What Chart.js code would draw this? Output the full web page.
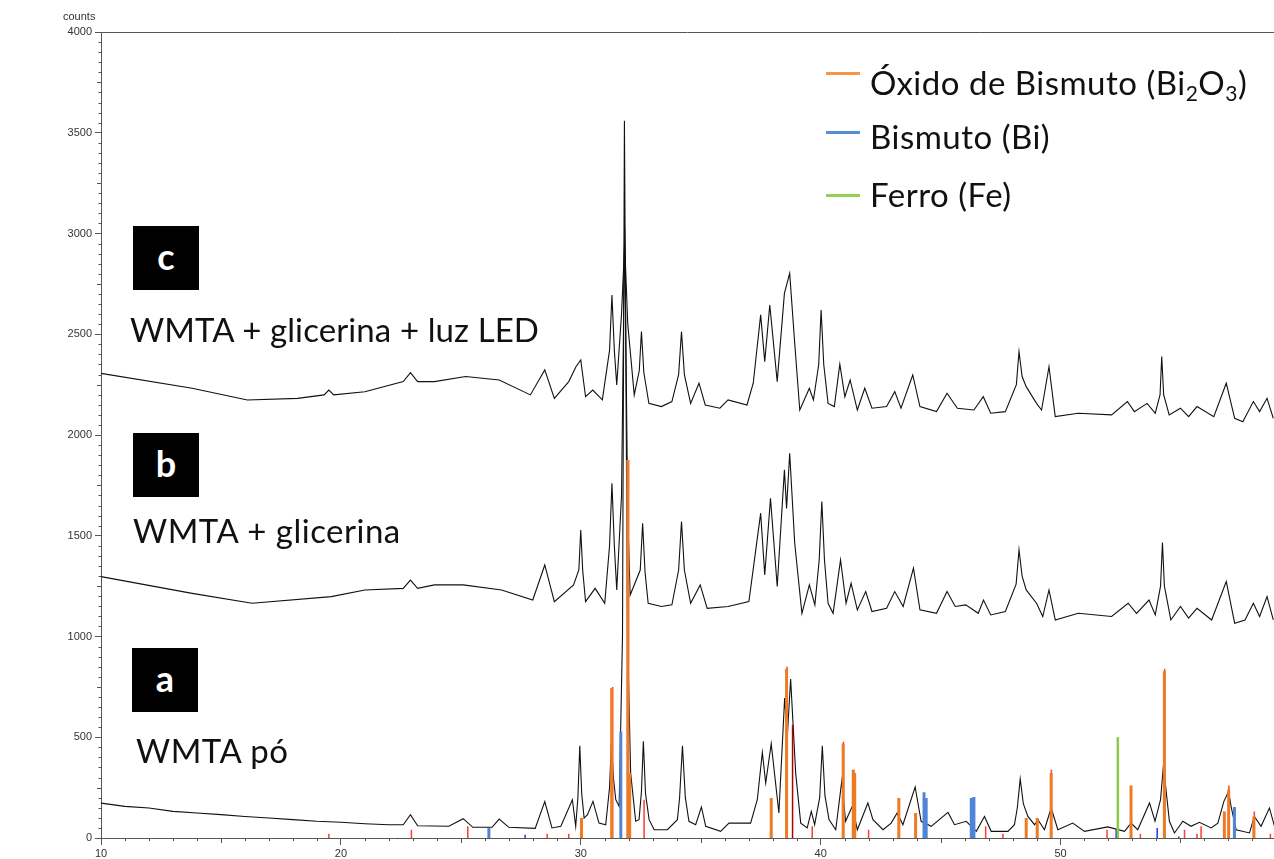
<!DOCTYPE html>
<html>
<head>
<meta charset="utf-8">
<script src="https://cdn.jsdelivr.net/npm/chart.js@4.4.1/dist/chart.umd.min.js"></script>
<style>
  body { margin: 0; background: #fff; }
  #wrap { position: relative; width: 1274px; height: 859px; }
  canvas { position: absolute; left: 0; top: 0; }
  .lbl { position: absolute; font-family: Lato, "Noto Sans", sans-serif; font-size: 33px; line-height: 33px; letter-spacing: 0.5px; color: #111; white-space: nowrap; }
  .box { position: absolute; width: 66px; height: 64px; background: #000; color: #fff; font-family: Lato, sans-serif; font-weight: bold; font-size: 36px; line-height: 60px; text-align: center; }
  .leg { position: absolute; font-family: Lato, "Noto Sans", sans-serif; font-size: 33px; line-height: 33px; letter-spacing: 0.5px; color: #111; white-space: nowrap; }
  .leg sub { font-size: 21px; vertical-align: -6px; line-height: 0; }
  .sw { position: absolute; width: 34px; height: 3px; }
  #counts { position: absolute; left: 63px; top: 10px; font: 11px "Liberation Sans", Arial, sans-serif; color: #333; }
</style>
</head>
<body>
<div id="wrap">
  <canvas id="xrd" width="1274" height="859"></canvas>
  <div id="counts">counts</div>

  <div class="box" style="left:133px;top:226px">c</div>
  <div class="lbl" style="left:130px;top:313px;letter-spacing:0.1px">WMTA + glicerina + luz LED</div>
  <div class="box" style="left:133px;top:433px">b</div>
  <div class="lbl" style="left:133px;top:514px">WMTA + glicerina</div>
  <div class="box" style="left:132px;top:648px">a</div>
  <div class="lbl" style="left:136px;top:734px">WMTA pó</div>

  <div class="sw" style="left:826px;top:72px;background:#F79646"></div>
  <div class="leg" style="left:870px;top:66px">Óxido de Bismuto (Bi<sub>2</sub>O<sub>3</sub>)</div>
  <div class="sw" style="left:826px;top:131px;background:#558ED5"></div>
  <div class="leg" style="left:870px;top:120px">Bismuto (Bi)</div>
  <div class="sw" style="left:826px;top:194px;background:#92D050"></div>
  <div class="leg" style="left:870px;top:178px">Ferro (Fe)</div>
</div>
<script>
// scan traces, [2theta, counts]
var wmtaPo = [
  [10,173],[11,157],[12,149],[13,132],[14,124],[15,116],[16,107],[17,99],[18,91],[19,83],[20,78],[21,71],[22,66],
  [22.6,66],[22.9,116],[23.2,61],[24.5,58],[25.1,96],[25.5,53],[26.3,53],[26.6,94],[27.0,53],[28.1,48],[28.5,181],
  [28.8,50],[29.17,58],[29.65,190],[29.79,58],[29.88,200],[29.96,458],[30.04,220],[30.14,99],[30.28,116],[30.51,182],
  [30.76,74],[31.04,66],[31.2,250],[31.28,480],[31.36,300],[31.46,190],[31.6,157],[31.74,1000],[31.82,3560],[31.95,1000],
  [32.08,322],[32.29,83],[32.43,91],[32.53,230],[32.61,480],[32.7,220],[32.85,91],[33.06,41],[33.61,41],[34.03,91],
  [34.12,200],[34.24,458],[34.36,200],[34.51,83],[34.79,66],[35.03,154],[35.21,58],[35.83,33],[36.18,74],[37.08,74],
  [37.36,190],[37.57,425],[37.71,273],[37.94,468],[38.26,124],[38.5,695],[38.61,504],[38.75,789],[38.96,322],[39.17,74],
  [39.44,50],[39.61,132],[39.75,66],[39.96,200],[40.07,458],[40.18,210],[40.35,91],[40.63,41],[40.88,281],[41.04,83],
  [41.32,157],[41.53,41],[41.97,174],[42.18,91],[42.6,41],[42.94,74],[43.19,124],[43.43,66],[43.94,253],[44.19,83],
  [44.61,58],[45.31,127],[45.58,66],[46.07,83],[46.49,33],[46.83,107],[47.11,33],[47.81,33],[48.08,66],[48.2,150],
  [48.32,293],[48.45,170],[48.64,107],[48.92,66],[49.06,91],[49.33,41],[49.61,149],[49.89,41],[50.51,74],[51.0,33],
  [51.97,55],[52.67,33],[52.94,74],[53.22,41],[53.71,174],[53.94,83],[54.17,190],[54.29,359],[54.54,83],[54.75,25],
  [55.1,83],[55.44,58],[55.79,78],[56.28,50],[56.56,74],[56.81,182],[57.01,232],[57.11,157],[57.32,41],[57.88,25],
  [58.08,107],[58.36,58],[58.71,149],[58.94,50]
];
var wmtaGlic = [
  [10,1297],[13.8,1214],[16.3,1165],[19.6,1198],[21.0,1231],[22.6,1239],[22.9,1280],[23.2,1239],[23.9,1256],[25.1,1256],
  [26.7,1231],[28.0,1181],[28.5,1355],[28.9,1173],[29.7,1256],[29.92,1330],[30.0,1529],[30.08,1330],[30.2,1173],
  [30.6,1239],[31.0,1165],[31.2,1450],[31.3,1760],[31.4,1450],[31.5,1231],[31.7,1700],[31.83,3030],[31.96,1600],
  [32.06,1206],[32.48,1330],[32.58,1562],[32.68,1320],[32.81,1165],[33.36,1149],[33.8,1157],[34.08,1330],[34.2,1570],
  [34.32,1330],[34.58,1165],[34.98,1256],[35.27,1140],[36.14,1149],[37.01,1173],[37.5,1612],[37.67,1306],[37.91,1686],
  [38.19,1248],[38.49,1827],[38.58,1636],[38.71,1909],[38.92,1463],[39.22,1115],[39.53,1256],[39.76,1157],[39.94,1380],
  [40.05,1670],[40.16,1380],[40.31,1165],[40.52,1115],[40.83,1380],[41.06,1165],[41.27,1264],[41.53,1132],[41.88,1223],
  [42.14,1124],[42.75,1140],[43.09,1223],[43.44,1149],[43.87,1339],[44.14,1132],[44.83,1115],[45.27,1223],[45.61,1149],
  [46.05,1157],[46.57,1115],[46.79,1181],[47.09,1107],[47.7,1124],[48.15,1260],[48.27,1430],[48.4,1300],[48.57,1231],
  [49.0,1165],[49.26,1099],[49.52,1231],[49.78,1082],[50.74,1115],[52.13,1099],[52.82,1165],[53.17,1115],[53.69,1181],
  [53.95,1107],[54.17,1250],[54.25,1466],[54.33,1250],[54.6,1082],[55.0,1149],[55.34,1091],[55.69,1140],[56.3,1082],
  [56.91,1273],[57.26,1066],[57.69,1082],[58.04,1165],[58.3,1099],[58.61,1198],[58.87,1082]
];
var wmtaLed = [
  [10,2306],[13.8,2232],[16.1,2174],[18.2,2182],[19.3,2199],[19.5,2223],[19.7,2199],[21.0,2215],[22.6,2265],[22.9,2309],
  [23.2,2265],[23.9,2265],[25.2,2290],[26.6,2273],[27.9,2199],[28.5,2323],[28.9,2182],[29.5,2265],[29.8,2339],[30.0,2372],
  [30.2,2190],[30.5,2223],[30.9,2174],[31.2,2420],[31.3,2695],[31.4,2420],[31.5,2248],[31.7,2600],[31.83,2950],
  [31.96,2550],[32.23,2199],[32.44,2320],[32.53,2513],[32.63,2310],[32.84,2157],[33.36,2141],[33.8,2166],[34.08,2300],
  [34.2,2513],[34.32,2300],[34.58,2157],[34.93,2257],[35.19,2149],[35.8,2133],[36.14,2174],[36.93,2149],[37.19,2257],
  [37.5,2596],[37.67,2364],[37.88,2645],[38.19,2265],[38.49,2703],[38.71,2802],[38.92,2455],[39.13,2124],[39.53,2232],
  [39.7,2174],[39.92,2350],[40.02,2620],[40.13,2350],[40.31,2157],[40.57,2141],[40.8,2352],[41.01,2190],[41.23,2273],
  [41.53,2124],[41.84,2232],[42.14,2133],[42.75,2141],[43.09,2215],[43.35,2133],[43.84,2298],[44.14,2141],[44.83,2116],
  [45.27,2207],[45.7,2133],[46.39,2124],[46.78,2190],[47.09,2108],[47.7,2116],[48.16,2250],[48.27,2414],[48.4,2290],
  [48.57,2240],[49.0,2157],[49.21,2124],[49.52,2339],[49.78,2091],[50.74,2108],[52.13,2100],[52.79,2166],[53.08,2116],
  [53.61,2157],[53.95,2108],[54.15,2200],[54.22,2389],[54.3,2200],[54.53,2100],[55.0,2133],[55.34,2091],[55.69,2141],
  [56.39,2091],[56.91,2257],[57.26,2083],[57.6,2066],[58.04,2166],[58.3,2116],[58.61,2182],[58.87,2083]
];

// reference patterns (stick lines), [2theta, height]
var bi2o3Sticks = [
  [30.03,99],[31.29,744],[31.96,1876],[32.04,322],[37.94,198],[38.58,839],[40.94,468],[41.36,339],[41.42,322],
  [43.26,198],[43.96,124],[48.57,99],[49.03,99],[49.61,322],[52.94,261],[54.33,827],[56.83,132],[57.01,240],[58.06,107]
];
var biSticks = [[26.17,50],[31.67,529],[44.31,227],[44.4,198],[46.28,198],[46.39,203],[57.25,154]];
var biSmallSticks = [[27.68,16],[52.32,41],[54.03,50],[54.93,8]];
var feSticks = [[52.39,501]];
var redSticks = [
  [19.5,21],[22.94,41],[25.29,58],[28.6,21],[29.5,21],[31.33,750],[31.99,1876],[32.64,190],[38.6,850],[39.65,58],
  [40.95,478],[41.38,339],[42.0,41],[46.88,58],[47.6,21],[49.62,339],[51.94,41],[53.33,21],[54.34,840],[55.17,41],
  [55.69,21],[55.86,58],[57.02,261],[58.08,132],[58.75,21]
];
var darkRedSticks = [[38.83,562]];

var yTicks = [0, 500, 1000, 1500, 2000, 2500, 3000, 3500, 4000];
var xTicks = [10, 20, 30, 40, 50];

function toPoints(arr) {
  return arr.map(function(p) { return {x: p[0], y: p[1]}; });
}
function toSticks(arr) {
  var out = [];
  for (var i in arr) {
    out.push({x: arr[i][0], y: 0});
    out.push({x: arr[i][0], y: arr[i][1]});
    out.push({x: arr[i][0], y: null});
  }
  return out;
}

function trace(data) {
  return { data: toPoints(data), borderColor: '#111', borderWidth: 1.1, pointRadius: 0, tension: 0, order: 10 };
}
function sticks(data, color, w, ord) {
  return { data: toSticks(data), borderColor: color, borderWidth: w, pointRadius: 0, spanGaps: false, order: ord, borderCapStyle: 'butt' };
}

var minorTicks = {
  id: 'minorTicks',
  afterDraw: function(chart) {
    var ctx = chart.ctx, a = chart.chartArea, x = chart.scales.x, y = chart.scales.y;
    ctx.save();
    ctx.strokeStyle = '#555';
    ctx.lineWidth = 1;
    ctx.beginPath();
    for (var v = 50; v < 4000; v += 50) {
      if (v % 500 === 0) continue;
      var py = Math.round(y.getPixelForValue(v)) + 0.5;
      var len = v % 250 === 0 ? 4 : 2.5;
      ctx.moveTo(a.left - len, py);
      ctx.lineTo(a.left, py);
    }
    for (var t = 11; t <= 58; t++) {
      if (t % 10 === 0) continue;
      var px = Math.round(x.getPixelForValue(t)) + 0.5;
      var l = t % 5 === 0 ? 5 : 3;
      ctx.moveTo(px, a.bottom);
      ctx.lineTo(px, a.bottom + l);
    }
    ctx.moveTo(a.left, a.top + 0.5);
    ctx.lineTo(chart.width, a.top + 0.5);
    ctx.stroke();
    ctx.restore();
  }
};

var ctx = document.getElementById('xrd').getContext('2d');
var chart = new Chart(ctx, {
  type: 'line',
  data: {
    datasets: [
      sticks(feSticks, '#8CCB45', 2.5, 1),
      sticks(biSticks, '#4F85D8', 3, 2),
      sticks(biSmallSticks, '#2233EE', 1.5, 2),
      sticks(bi2o3Sticks, '#EE7A24', 3, 3),
      sticks(darkRedSticks, '#B00000', 1.5, 4),
      sticks(redSticks, '#FF3B3B', 1.5, 5),
      trace(wmtaPo),
      trace(wmtaGlic),
      trace(wmtaLed)
    ]
  },
  options: {
    responsive: false,
    animation: false,
    devicePixelRatio: 1,
    layout: { padding: { top: 32, left: 0, right: 0, bottom: 0 } },
    plugins: { legend: { display: false }, tooltip: { enabled: false } },
    scales: {
      x: {
        type: 'linear',
        min: 10,
        max: 58.9,
        afterFit: function(s) { s.height = 21; },
        afterBuildTicks: function(s) { s.ticks = xTicks.map(function(v) { return {value: v}; }); },
        ticks: { font: { family: 'Liberation Sans', size: 11 }, color: '#333', padding: 2, maxRotation: 0,
                 callback: function(v) { return String(v); } },
        grid: { drawOnChartArea: false, tickLength: 7, color: '#555' },
        border: { color: '#555' }
      },
      y: {
        min: 0,
        max: 4000,
        afterFit: function(s) { s.width = 101; },
        afterBuildTicks: function(s) { s.ticks = yTicks.map(function(v) { return {value: v}; }); },
        ticks: { font: { family: 'Liberation Sans', size: 11 }, color: '#333', padding: 3,
                 callback: function(v) { return String(v); } },
        grid: { drawOnChartArea: false, tickLength: 6, color: '#555' },
        border: { color: '#555' }
      }
    }
  },
  plugins: [minorTicks]
});
</script>
</body>
</html>
